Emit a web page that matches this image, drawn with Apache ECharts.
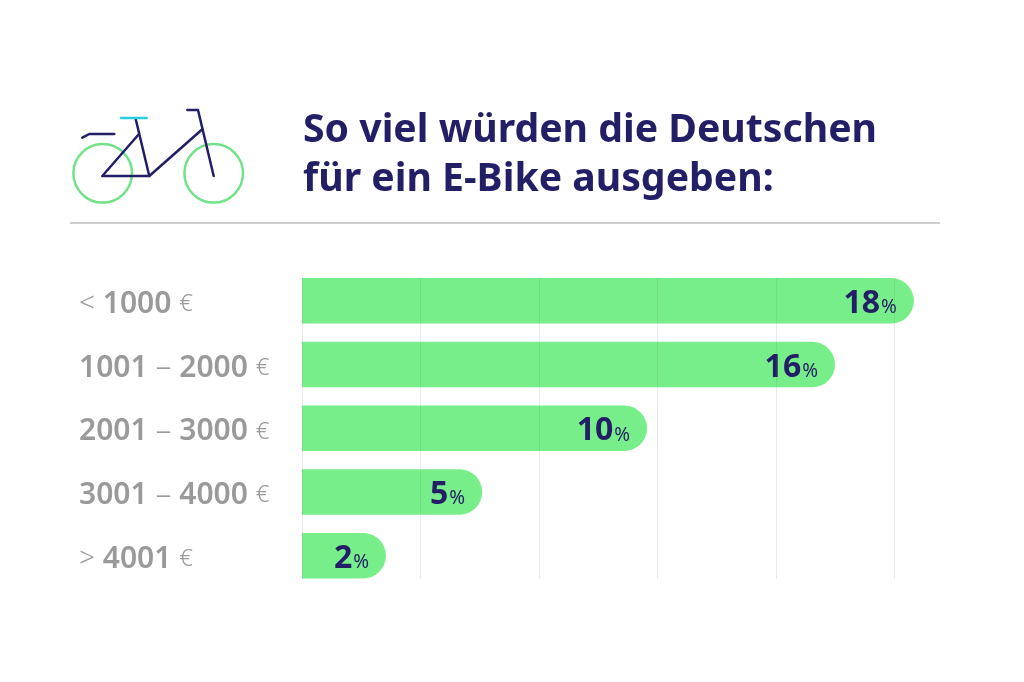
<!DOCTYPE html>
<html>
<head>
<meta charset="utf-8">
<title>E-Bike</title>
<script src="https://cdn.jsdelivr.net/npm/echarts@6/dist/echarts.min.js"></script>
<style>
html, body { margin: 0; padding: 0; background: #fff; }
#chart { width: 1024px; height: 682px; }
</style>
</head>
<body>
<div id="chart"></div>
<script>
var titleText = 'So viel würden die Deutschen\nfür ein E-Bike ausgeben:';
var categories = ['< 1000 €', '1001 – 2000 €', '2001 – 3000 €', '3001 – 4000 €', '> 4001 €'];
// printed labels
var shareLabels = [18, 16, 10, 5, 2];
// the drawn bars are not quite proportional to the labels, so lengths are read off the picture
var barLengths = [18.07, 15.74, 10.19, 5.32, 2.48];

var navy = '#231f66';
var green = '#78ee8a';
var grey = '#9a9a9a';

// bike icon, decoration only
function stroke(points, color) {
    return {
        type: 'polyline',
        shape: { points: points },
        style: { stroke: color, lineWidth: 2.5, fill: null, lineCap: 'round', lineJoin: 'round' },
        silent: true
    };
}
function wheel(cx, cy) {
    return {
        type: 'circle',
        shape: { cx: cx, cy: cy, r: 29.3 },
        style: { stroke: '#72e288', lineWidth: 2.5, fill: null },
        silent: true
    };
}
var bike = [
    wheel(102.7, 173.3),
    wheel(213.7, 173.3),
    stroke([[82.3, 137.7], [89.3, 134], [114.3, 134]], navy),
    stroke([[139, 134], [102.3, 176], [149.3, 176], [202.3, 129.3]], navy),
    stroke([[135.7, 119], [149.3, 176]], navy),
    stroke([[187.3, 110], [198, 110], [213.7, 176]], navy),
    stroke([[121, 118], [146.7, 118]], '#2accdf')
];
var divider = {
    type: 'line',
    shape: { x1: 70, y1: 223, x2: 940, y2: 223 },
    style: { stroke: '#cfcfcf', lineWidth: 2 },
    silent: true
};

var myChart = echarts.init(document.getElementById('chart'));
myChart.setOption({
    backgroundColor: '#fff',
    animation: false,
    title: {
        text: titleText,
        left: 303,
        top: 106,
        padding: 0,
        textStyle: {
            fontFamily: 'Noto Sans',
            fontWeight: 'bold',
            fontSize: 39.2,
            lineHeight: 49,
            color: navy
        }
    },
    graphic: bike.concat([divider]),
    // grid 0 holds the bars, grid 1 only the vertical lines which stop at the last bar
    grid: [
        { left: 302, top: 269, width: 640, height: 318.5 },
        { left: 302, top: 278, width: 640, height: 301 }
    ],
    xAxis: [
        { type: 'value', gridIndex: 0, min: 0, max: 18.9, show: false },
        {
            type: 'value',
            gridIndex: 1,
            min: 0,
            max: 18.9,
            interval: 3.5,
            z: 3,
            axisLine: { show: false },
            axisTick: { show: false },
            axisLabel: { show: false },
            splitLine: { show: true, showMaxLine: false, lineStyle: { color: 'rgba(110,110,110,0.14)', width: 1 } }
        }
    ],
    yAxis: [
        {
            type: 'category',
            gridIndex: 0,
            inverse: true,
            data: categories,
            axisLine: { show: false },
            axisTick: { show: false },
            splitLine: { show: false },
            axisLabel: {
                align: 'left',
                margin: 223,
                fontFamily: 'Noto Sans',
                fontSize: 30,
                padding: [7, 0, 0, 0],
                formatter: function(value) {
                    return value.replace(/(\d+)/g, '{b|$1}')
                        .replace(/([<>])/g, '{g|$1}')
                        .replace('€', '{l|€}')
                        .replace('–', '{d|–}');
                },
                rich: {
                    b: { fontFamily: 'Noto Sans', fontWeight: 600, fontSize: 30, color: grey },
                    g: { fontFamily: 'Noto Sans', fontWeight: 300, fontSize: 28, color: grey },
                    l: { fontFamily: 'Noto Sans', fontWeight: 300, fontSize: 24, color: grey },
                    d: { fontFamily: 'Noto Sans', fontWeight: 300, fontSize: 32, color: grey }
                }
            }
        },
        { type: 'category', gridIndex: 1, show: false, data: categories }
    ],
    series: [{
        type: 'bar',
        xAxisIndex: 0,
        yAxisIndex: 0,
        z: 2,
        barWidth: 45.5,
        data: barLengths,
        itemStyle: { color: green, borderRadius: [0, 23, 23, 0] },
        label: {
            show: true,
            position: 'insideRight',
            distance: 17,
            offset: [0, 3],
            formatter: function(p) {
                return '{n|' + shareLabels[p.dataIndex] + '}{p|%}';
            },
            rich: {
                n: { fontFamily: 'Noto Sans', fontWeight: 'bold', fontSize: 32, color: navy },
                p: { fontFamily: 'Noto Sans', fontWeight: 400, fontSize: 19, color: navy, padding: [8, 0, 0, 1] }
            }
        }
    }]
});
</script>
</body>
</html>
